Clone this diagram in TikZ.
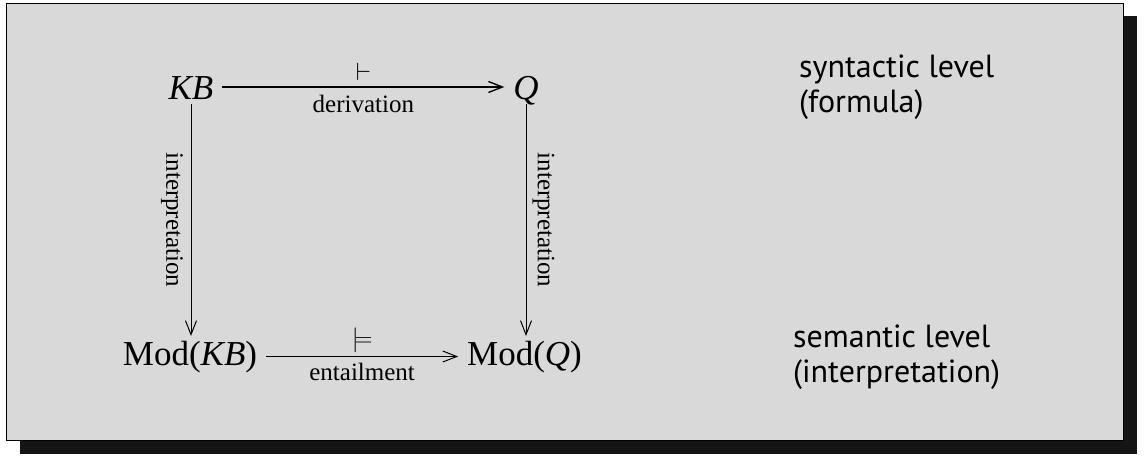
\documentclass[tikz,border=0pt]{standalone}
\usepackage{fontspec}
\setmainfont{Liberation Serif}
\newfontfamily\labelsans{PT Sans}
\usetikzlibrary{arrows.meta}
\definecolor{boxgray}{RGB}{217,217,217}
\definecolor{shadowblack}{RGB}{21,21,21}
\begin{document}
\begin{tikzpicture}[x=1pt,y=-1pt,
  termtop/.style={font=\fontsize{35}{40}\selectfont, anchor=base, inner xsep=9pt, inner ysep=5pt, outer sep=0pt, text height=24pt, text depth=0pt},
  termbot/.style={font=\fontsize{35}{40}\selectfont, anchor=base, inner xsep=9pt, inner ysep=5pt, outer sep=0pt, text height=24pt, text depth=7pt},
  arr/.style={line width=1pt, -{Straight Barb[length=14pt,width=11pt]}},
  arrbold/.style={line width=1.4pt, -{Straight Barb[length=14pt,width=11pt]}},
  symlabel/.style={font=\fontsize{30}{34}\selectfont, inner sep=0pt},
  wordlabel/.style={font=\fontsize{25}{30}\selectfont, inner sep=0pt},
  levellabel/.style={font=\labelsans\fontsize{32}{35}\selectfont, align=left, anchor=base west, inner sep=0pt}
]
\useasboundingbox (0,0) rectangle (1144,459);
\fill[white] (0,0) rectangle (1144,459);
\fill[shadowblack] (20,16) rectangle (1137,454);
\filldraw[fill=boxgray, draw=black, line width=1pt] (6,3) rectangle (1123,440);

\node[termtop] (kb) at (191,99) {\textit{KB}};
\node[termtop] (q) at (526,99) {\textit{Q}};
\node[termbot] (mkb) at (190,365) {Mod(\textit{KB})};
\node[termbot] (mq) at (524.5,365) {Mod(\textit{Q})};

\draw[arrbold] (kb) -- (q)
  node[symlabel, midway, yshift=15.5pt] {$\vdash$}
  node[wordlabel, midway, anchor=base, yshift=-25pt] {derivation};
\draw[arr] (mkb) -- (mq)
  node[symlabel, midway, yshift=16pt] {$\models$}
  node[wordlabel, midway, anchor=base, yshift=-24pt] {entailment};
\draw[arr] (kb.south) -- (kb.south |- mkb.north)
  node[wordlabel, midway, rotate=-90, yshift=-19pt] {interpretation};
\draw[arr] (q.south) -- (q.south |- mq.north)
  node[wordlabel, midway, rotate=-90, yshift=17.5pt] {interpretation};

\node[levellabel] (syn) at (799,112) {syntactic level\\(formula)};
\node[levellabel] (sem) at (793,382) {semantic level\\(interpretation)};
\end{tikzpicture}
\end{document}
